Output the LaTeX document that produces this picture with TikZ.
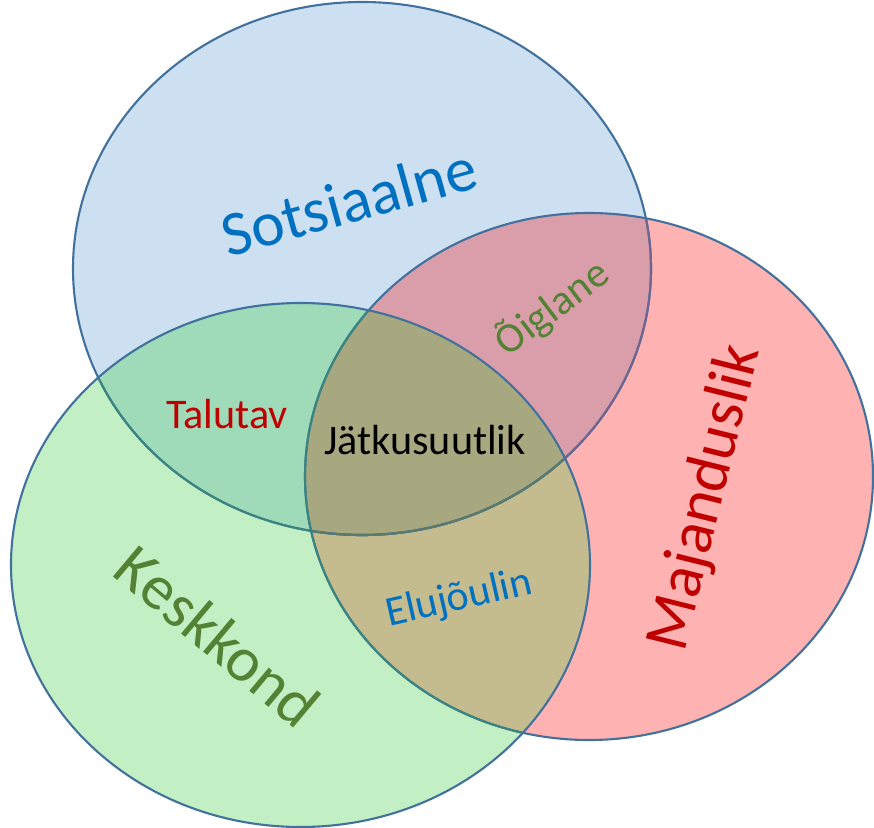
\documentclass[tikz,border=0pt]{standalone}
\usepackage{fontspec}
\setmainfont{Carlito}
\definecolor{fB}{HTML}{CDE0F2}
\definecolor{fR}{HTML}{FFB2B2}
\definecolor{fG}{HTML}{C2F0C4}
\definecolor{fBR}{HTML}{DA9EAA}
\definecolor{fBG}{HTML}{9FDAB9}
\definecolor{fRG}{HTML}{C4BB8F}
\definecolor{fBRG}{HTML}{A8A880}
\definecolor{lineC}{HTML}{41719C}
\definecolor{lineR}{HTML}{6E6590}
\definecolor{lineG}{HTML}{3A8580}
\definecolor{lineRG}{HTML}{5A7A70}
\definecolor{tBlue}{HTML}{0070C0}
\definecolor{tRed}{HTML}{C00000}
\definecolor{tGreen}{HTML}{548235}
\newcommand\pathBlue{(362,268.5) ellipse [x radius=289, y radius=266.5]}
\newcommand\pathRed{(589,476.5) ellipse [x radius=284, y radius=263.5]}
\newcommand\pathGreen{(300.5,565) ellipse [x radius=289.5, y radius=262]}
\tikzset{
  outl/.style={line width=1.2pt},
  bigtxt/.style={font=\fontsize{36}{40}\selectfont, inner sep=0pt},
  smalltxt/.style={font=\fontsize{24}{28}\selectfont, inner sep=0pt}
}
\begin{document}
\begin{tikzpicture}[x=0.02cm,y=-0.02cm]
\useasboundingbox (0,0) rectangle (874,827);
% solo fills
\fill[fB] \pathBlue;
\fill[fR] \pathRed;
\fill[fG] \pathGreen;
% pairwise overlaps
\begin{scope}\clip \pathBlue; \fill[fBR] \pathRed; \end{scope}
\begin{scope}\clip \pathBlue; \fill[fBG] \pathGreen; \end{scope}
\begin{scope}\clip \pathRed; \fill[fRG] \pathGreen; \end{scope}
\begin{scope}\clip \pathBlue; \clip \pathRed; \fill[fBRG] \pathGreen; \end{scope}
% outlines (blue lowest, then red, then green on top)
\draw[outl, lineC] \pathBlue;
\begin{scope}\clip \pathRed; \draw[outl, lineR] \pathBlue; \end{scope}
\begin{scope}\clip \pathGreen; \draw[outl, lineG] \pathBlue; \end{scope}
\begin{scope}\clip \pathRed; \clip \pathGreen; \draw[outl, lineRG] \pathBlue; \end{scope}
\draw[outl, lineC] \pathRed;
\begin{scope}\clip \pathGreen; \draw[outl, lineG] \pathRed; \end{scope}
\draw[outl, lineC] \pathGreen;
% labels
\node[bigtxt, text=tBlue, rotate=15.5] (sots) at (349,201) {Sotsiaalne};
\node[bigtxt, text=tRed, rotate=76] (maj) at (706,498) {Majanduslik};
\node[bigtxt, text=tGreen, rotate=-40] (kesk) at (218,636) {Keskkond};
\node[smalltxt, text=tGreen, rotate=37] (oigl) at (552,308) {Õiglane};
\node[smalltxt, text=tRed] (talu) at (227,414) {Talutav};
\node[smalltxt, text=black] (jatk) at (425,440) {Jätkusuutlik};
\node[smalltxt, text=tBlue, rotate=12.8] (elu) at (459,599) {Elujõulin};
\end{tikzpicture}
\end{document}
